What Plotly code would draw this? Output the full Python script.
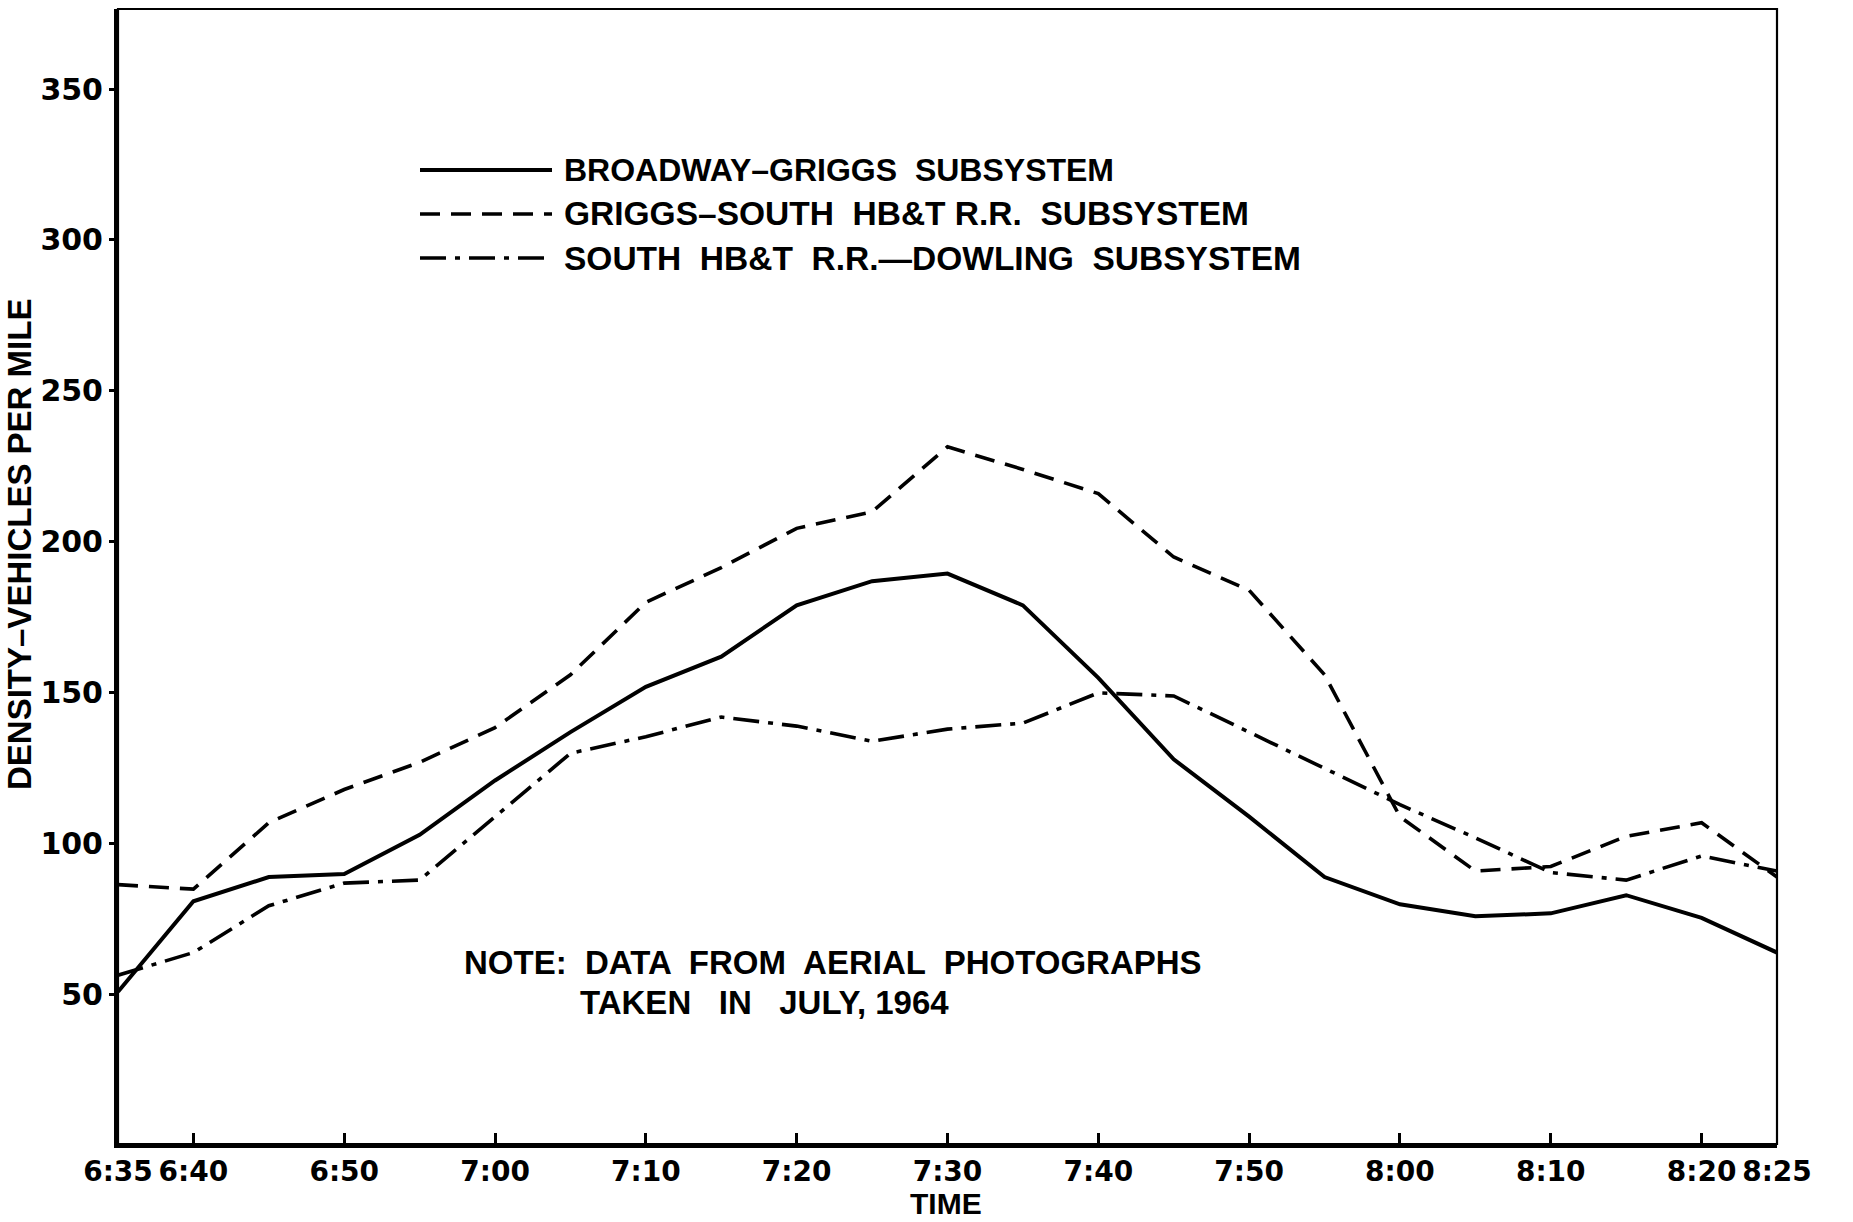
import plotly.graph_objects as go

# ---------------- data ----------------
times = ["6:35", "6:40", "6:45", "6:50", "6:55", "7:00", "7:05", "7:10", "7:15", "7:20",
         "7:25", "7:30", "7:35", "7:40", "7:45", "7:50", "7:55", "8:00", "8:05", "8:10",
         "8:15", "8:20", "8:25"]
broadway_griggs = [51, 81, 89, 90, 103, 121, 137, 152, 162, 179, 187, 189.5, 179, 155,
                   128, 109, 89, 80, 76, 77, 83, 75.5, 64]
griggs_south = [86.5, 85, 107, 118, 127, 138.5, 156, 180, 191.5, 204.5, 210, 231.5, 224,
                216, 195, 184, 156, 109, 91, 92.5, 102.5, 107, 89]
south_dowling = [56.5, 64, 79.5, 87, 88, 109, 130, 135.5, 142, 139, 134, 138, 140, 150,
                 149, 137, 125, 113, 102, 90.5, 88, 96, 91]

series_names = ["BROADWAY\u2013GRIGGS  SUBSYSTEM",
                "GRIGGS\u2013SOUTH  HB&T R.R.  SUBSYSTEM",
                "SOUTH  HB&T  R.R.\u2014DOWLING  SUBSYSTEM"]

tick_labels = ["6:35", "6:40", "6:50", "7:00", "7:10", "7:20", "7:30", "7:40", "7:50",
               "8:00", "8:10", "8:20", "8:25"]
y_ticks = [50, 100, 150, 200, 250, 300, 350]


def to_min(t):
    h, m = t.split(":")
    return (int(h) - 6) * 60 + int(m) - 35


x = [to_min(t) for t in times]
tick_vals = [to_min(t) for t in tick_labels]

dashes = ["solid", "20px,11px", "26px,9px,5px,9px"]
widths = [4, 3.6, 3.6]
series = [broadway_griggs, griggs_south, south_dowling]

fig = go.Figure()
for name, ys, d, w in zip(series_names, series, dashes, widths):
    fig.add_trace(go.Scatter(x=x, y=ys, mode="lines", name=name,
                             line=dict(color="black", width=w, dash=d),
                             showlegend=False))

FONT = "Liberation Sans, Arial, sans-serif"
NUMFONT = "DejaVu Sans, Verdana, sans-serif"

# custom legend (paper coordinates)
W, H = 1853, 1222
L, R, T, B = 118, 76, 9, 78
pw, ph = W - L - R, H - T - B


def px(xp):
    return (xp - L) / pw


def py(yp):
    return 1 - (yp - T) / ph


legend_y = [170, 214, 258]
legend_sizes = [32, 33.5, 33.5]
for i, (name, d, w) in enumerate(zip(series_names, dashes, widths)):
    fig.add_shape(type="line", xref="paper", yref="paper",
                  x0=px(420), x1=px(552), y0=py(legend_y[i]), y1=py(legend_y[i]),
                  line=dict(color="black", width=w, dash=d))
    fig.add_annotation(xref="paper", yref="paper", x=px(562), y=py(legend_y[i]),
                       text=name, showarrow=False, xanchor="left", yanchor="middle",
                       font=dict(family=FONT, size=legend_sizes[i], color="black",
                                 weight="bold"))

fig.add_annotation(xref="paper", yref="paper", x=px(462), y=py(962),
                   text="NOTE:  DATA  FROM  AERIAL  PHOTOGRAPHS", showarrow=False,
                   xanchor="left", yanchor="middle",
                   font=dict(family=FONT, size=33, color="black", weight="bold"))
fig.add_annotation(xref="paper", yref="paper", x=px(578), y=py(1003),
                   text="TAKEN   IN   JULY, 1964", showarrow=False,
                   xanchor="left", yanchor="middle",
                   font=dict(family=FONT, size=33, color="black", weight="bold"))

# axis titles
fig.add_annotation(xref="paper", yref="paper", x=px(19), y=py(545),
                   text="DENSITY\u2013VEHICLES PER MILE", showarrow=False, textangle=-90,
                   xanchor="center", yanchor="middle",
                   font=dict(family=FONT, size=33, color="black", weight="bold"))
fig.add_annotation(xref="paper", yref="paper", x=px(946), y=py(1203),
                   text="TIME", showarrow=False, xanchor="center", yanchor="middle",
                   font=dict(family=FONT, size=30, color="black", weight="bold"))

# frame
fig.add_shape(type="rect", xref="paper", yref="paper", x0=0, x1=1, y0=0, y1=1,
              line=dict(color="black", width=2.2), layer="above")

fig.update_xaxes(range=[0, 110], tickvals=tick_vals, ticktext=tick_labels,
                 showgrid=False, zeroline=False, showline=True, linecolor="black",
                 linewidth=3.5, ticks="inside", ticklen=11, tickwidth=2.5,
                 tickcolor="black",
                 tickfont=dict(family=NUMFONT, size=28, color="black", weight="bold"))
fig.update_yaxes(range=[0.6, 376.5], tickvals=y_ticks,
                 showgrid=False, zeroline=False, showline=True, linecolor="black",
                 linewidth=4, ticks="outside", ticklen=5, tickwidth=2.5,
                 tickcolor="black",
                 tickfont=dict(family=NUMFONT, size=30, color="black", weight="bold"))

fig.update_layout(width=W, height=H, autosize=False,
                  margin=dict(l=L, r=R, t=T, b=B, autoexpand=False),
                  paper_bgcolor="white", plot_bgcolor="white")

fig.write_html("out.html")
